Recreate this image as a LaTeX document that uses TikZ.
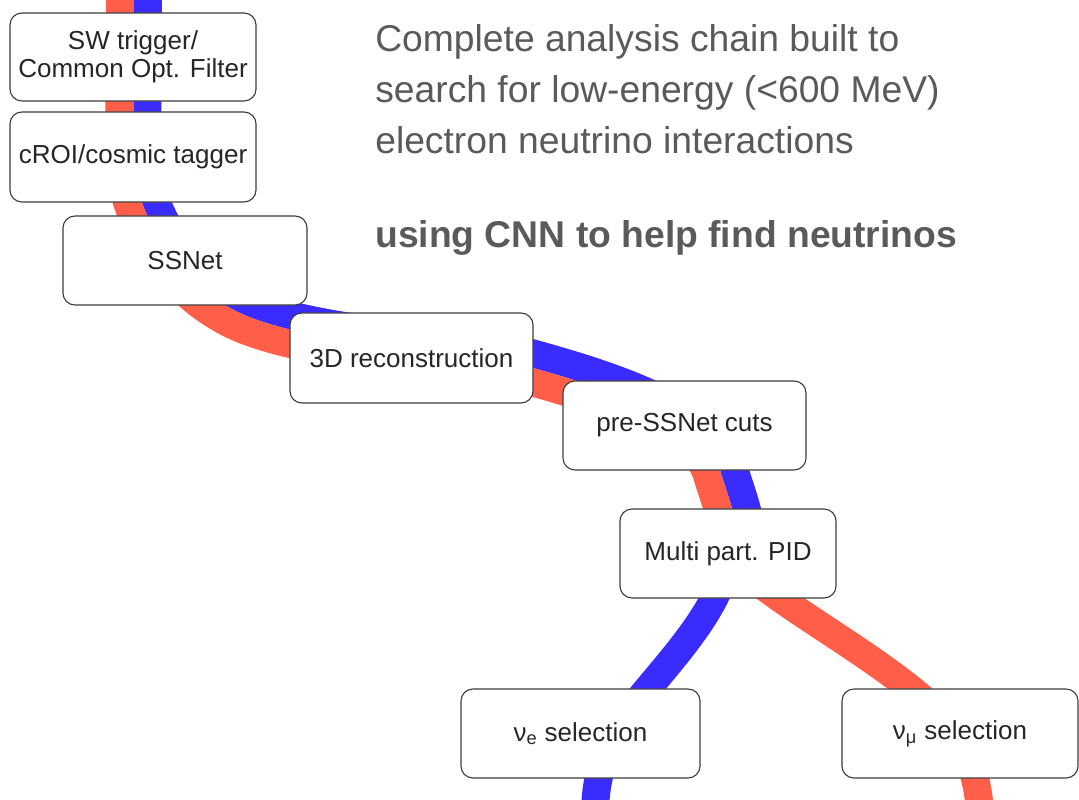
\documentclass[tikz,border=0pt]{standalone}
\usepackage{fontspec}
\setmainfont{Liberation Sans}
\usetikzlibrary{backgrounds, decorations.pathmorphing, calc}

\definecolor{bandred}{RGB}{255,94,72}
\definecolor{bandblue}{RGB}{58,44,255}
\definecolor{textgray}{RGB}{90,90,90}
\definecolor{boxline}{RGB}{60,60,60}

\tikzset{
  stage/.style={draw=boxline, line width=0.8pt, fill=white, rounded corners=0.3cm,
    align=center, text=black!85, inner sep=0pt, minimum height=2.225cm,
    font=\fontsize{18.5}{20}\selectfont},
  band/.style={line width=0.7cm},
  bandside/.style={decorate, decoration={curveto, raise=#1}},
}

\begin{document}
\begin{tikzpicture}[x=0.025cm, y=-0.025cm]
\useasboundingbox (0,0) rectangle (1079,800);

% Stages of the chain
\node[stage, minimum width=6.15cm, minimum height=2.2cm] (sw) at (133,57) {SW trigger/\\Common Opt. Filter};
\node[stage, minimum width=6.15cm, minimum height=2.25cm] (croi) at (133,157) {cROI/cosmic tagger};
\node[stage, minimum width=6.1cm] (ssnet) at (185,260.5) {SSNet};
\node[stage, minimum width=6.075cm, minimum height=2.25cm] (reco) at (411.5,358) {3D reconstruction};
\node[stage, minimum width=6.075cm] (precuts) at (684.5,425.5) {pre-SSNet cuts};
\node[stage, minimum width=5.4cm] (pid) at (728,553.5) {Multi part. PID};
\node[stage, minimum width=5.975cm] (vesel) at (580.5,733.5) {ν\textsubscript{e} selection};
\node[stage, minimum width=5.9cm] (vmusel) at (960,733.5) {ν\textsubscript{μ} selection};

% Free ends of the bands
\coordinate (srcTop) at (134,-10);
\coordinate (veExit) at (595,815);
\coordinate (vmuExit) at (980,815);

% Description (base = last line)
\node[anchor=base west, align=left, inner sep=0pt, text=textgray,
  font=\fontsize{26.5}{36.3}\selectfont] (intro) at (375,154)
  {Complete analysis chain built to\\search for low-energy (<600 MeV)\\electron neutrino interactions};
\node[anchor=base west, inner sep=0pt, text=textgray,
  font=\fontsize{26.5}{36.3}\selectfont\bfseries] (cnn) at (375,248) {using CNN to help find neutrinos};

% Red and blue bands behind the stages
\begin{scope}[on background layer]
\foreach \col/\off in {bandblue/0.35cm, bandred/-0.35cm}{
  \draw[band, \col, bandside=\off] (srcTop) -- (croi.center)
    .. controls (133,200) and (165,270) .. (225,305)
    .. controls (291,347) and (470,350) .. (533,368)
    .. controls (605,388) and (705,420) .. (720,470)
    .. controls (728,497) and (738,520) .. (738,545);
}
% split after the PID
\draw[band, bandblue] (pid.center) .. controls (725,600) and (680,650) .. (645,692)
  .. controls (612,732) and (595,765) .. (veExit);
\draw[band, bandred] (pid.center) .. controls (755,590) and (850,640) .. (911,689)
  .. controls (960,728) and (978,765) .. (vmuExit);
\end{scope}
\end{tikzpicture}
\end{document}
